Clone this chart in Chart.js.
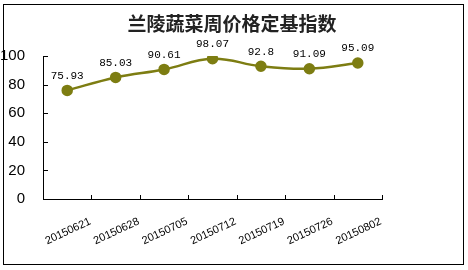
<!DOCTYPE html>
<html>
<head>
<meta charset="utf-8">
<script src="https://cdn.jsdelivr.net/npm/chart.js@4"></script>
<style>
  body { margin: 0; background: #fff; }
  #wrap { width: 468px; height: 270px; position: relative; }
</style>
</head>
<body>
<div id="wrap"><canvas id="myChart" width="468" height="270"></canvas></div>
<script>
const weeks = ['20150621', '20150628', '20150705', '20150712', '20150719', '20150726', '20150802'];
const index = [75.93, 85.03, 90.61, 98.07, 92.8, 91.09, 95.09];
const yTicks = [0, 20, 40, 60, 80, 100];
const titleText = '兰陵蔬菜周价格定基指数';

const olive = '#7d7d12';

// frame, title, inward tick marks and value labels
const extras = {
  id: 'extras',
  beforeDraw(chart) {
    const c = chart.ctx;
    c.save();
    c.fillStyle = '#fff';
    c.fillRect(0, 0, chart.width, chart.height);
    c.strokeStyle = '#000';
    c.lineWidth = 1;
    c.strokeRect(3.5, 4.5, 460, 260);
    c.fillStyle = '#222';
    c.font = 'bold 19px "Noto Sans CJK SC"';
    c.textAlign = 'center';
    c.textBaseline = 'middle';
    c.fillText(titleText, 232, 24);
    c.restore();
  },
  afterDraw(chart) {
    const c = chart.ctx;
    const x = chart.scales.x, y = chart.scales.y;
    c.save();
    c.strokeStyle = '#000';
    c.lineWidth = 1;
    c.beginPath();
    yTicks.forEach(v => {
      const py = Math.round(y.getPixelForValue(v)) + 0.5;
      c.moveTo(x.left, py);
      c.lineTo(x.left + 5, py);
    });
    for (let i = 1; i <= weeks.length; i++) {
      const px = Math.round(x.getPixelForValue(i - 0.5)) + 0.5;
      c.moveTo(px, y.bottom);
      c.lineTo(px, y.bottom - 4);
    }
    c.stroke();

    c.fillStyle = '#000';
    c.font = '11px "Liberation Mono"';
    c.textAlign = 'center';
    c.textBaseline = 'bottom';
    const meta = chart.getDatasetMeta(0);
    meta.data.forEach((pt, i) => {
      c.fillText(String(index[i]), pt.x, pt.y - 9);
    });
    c.restore();
  }
};

new Chart(document.getElementById('myChart'), {
  type: 'line',
  data: {
    labels: weeks,
    datasets: [{
      label: '定基指数',
      data: index,
      borderColor: olive,
      backgroundColor: olive,
      pointBackgroundColor: olive,
      pointBorderColor: olive,
      borderWidth: 2.5,
      pointRadius: 4.5,
      tension: 0.4,
      fill: false
    }]
  },
  options: {
    responsive: false,
    animation: false,
    devicePixelRatio: 1,
    layout: { padding: { left: 0, right: 86, top: 56, bottom: 0 } },
    plugins: {
      legend: { display: false },
      tooltip: { enabled: false },
      title: { display: false }
    },
    scales: {
      x: {
        offset: true,
        grid: { display: false },
        border: { display: true, color: '#000' },
        ticks: {
          color: '#000',
          font: { family: '"Liberation Sans"', size: 11 },
          minRotation: 25,
          maxRotation: 25,
          labelOffset: 23,
          padding: 8,
          autoSkip: false
        },
        afterFit(s) { s.height = 71; }
      },
      y: {
        min: 0,
        max: 100,
        grid: { display: false },
        border: { display: true, color: '#000' },
        ticks: {
          stepSize: 20,
          color: '#000',
          padding: 10,
          font: { family: '"Liberation Sans"', size: 15 }
        },
        afterFit(s) { s.width = 43; }
      }
    }
  },
  plugins: [extras]
});
</script>
</body>
</html>
